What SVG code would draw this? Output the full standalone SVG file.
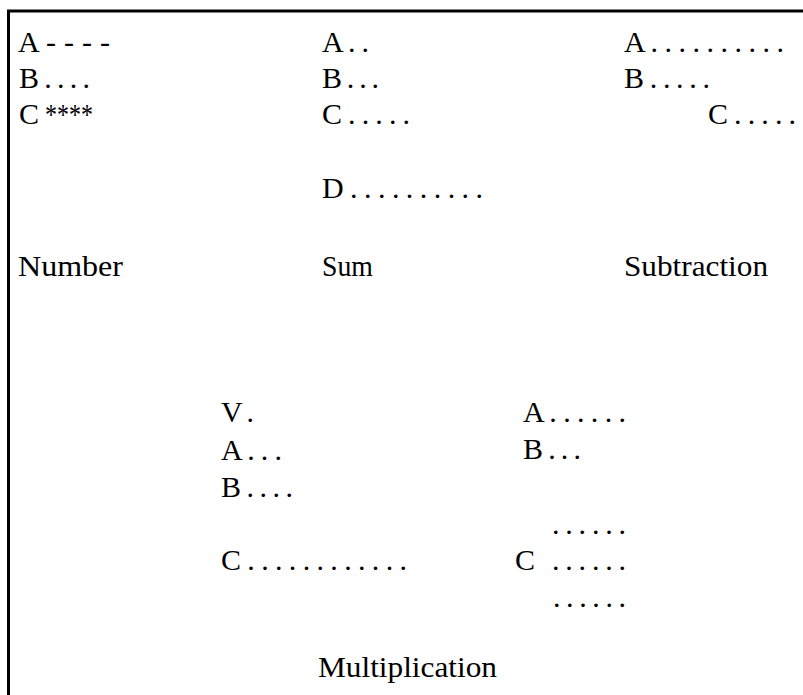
<svg xmlns="http://www.w3.org/2000/svg" width="803" height="695" viewBox="0 0 803 695">
<style>
text{font-family:'Liberation Serif','Times New Roman',serif;font-size:30px;fill:#000}
.frame{fill:none;stroke:#000;stroke-width:3}
</style>
<rect width="803" height="695" fill="#fff"/>
<path class="frame" d="M8.5,695 V11 H803"/>
<g id="number" font-family="Liberation Serif, serif">
<text x="18" y="52" textLength="92" lengthAdjust="spacing">A - - - -</text>
<text x="19" y="88" textLength="71" lengthAdjust="spacing">B . . . .</text>
<text x="19" y="124">C</text>
<text x="45" y="124" textLength="48" lengthAdjust="spacingAndGlyphs">****</text>
<text x="18" y="276" textLength="105" lengthAdjust="spacingAndGlyphs">Number</text>
</g>
<g id="sum" font-family="Liberation Serif, serif">
<text x="322" y="52" textLength="47" lengthAdjust="spacing">A . .</text>
<text x="322" y="88" textLength="57" lengthAdjust="spacing">B . . .</text>
<text x="322" y="124" textLength="88" lengthAdjust="spacing">C . . . . .</text>
<text x="322" y="198" textLength="161" lengthAdjust="spacing">D . . . . . . . . . .</text>
<text x="322" y="276" textLength="51" lengthAdjust="spacingAndGlyphs">Sum</text>
</g>
<g id="subtraction" font-family="Liberation Serif, serif">
<text x="624" y="52" textLength="160" lengthAdjust="spacing">A . . . . . . . . . .</text>
<text x="624" y="88" textLength="86" lengthAdjust="spacing">B . . . . .</text>
<text x="708" y="124" textLength="88" lengthAdjust="spacing">C . . . . .</text>
<text x="624" y="276" textLength="144" lengthAdjust="spacingAndGlyphs">Subtraction</text>
</g>
<g id="multiplication" font-family="Liberation Serif, serif">
<text x="221" y="422" textLength="33" lengthAdjust="spacing">V .</text>
<text x="221" y="460" textLength="61" lengthAdjust="spacing">A . . .</text>
<text x="221" y="497" textLength="72" lengthAdjust="spacing">B . . . .</text>
<text x="221" y="570" textLength="186" lengthAdjust="spacing">C . . . . . . . . . . . .</text>
<text x="523" y="422" textLength="103" lengthAdjust="spacing">A . . . . . .</text>
<text x="523" y="459" textLength="58" lengthAdjust="spacing">B . . .</text>
<text x="552" y="534" textLength="74" lengthAdjust="spacing">. . . . . .</text>
<text x="515" y="570">C</text>
<text x="552" y="570" textLength="74" lengthAdjust="spacing">. . . . . .</text>
<text x="553" y="607" textLength="73" lengthAdjust="spacing">. . . . . .</text>
<text x="318" y="677" textLength="179" lengthAdjust="spacingAndGlyphs">Multiplication</text>
</g>
</svg>
